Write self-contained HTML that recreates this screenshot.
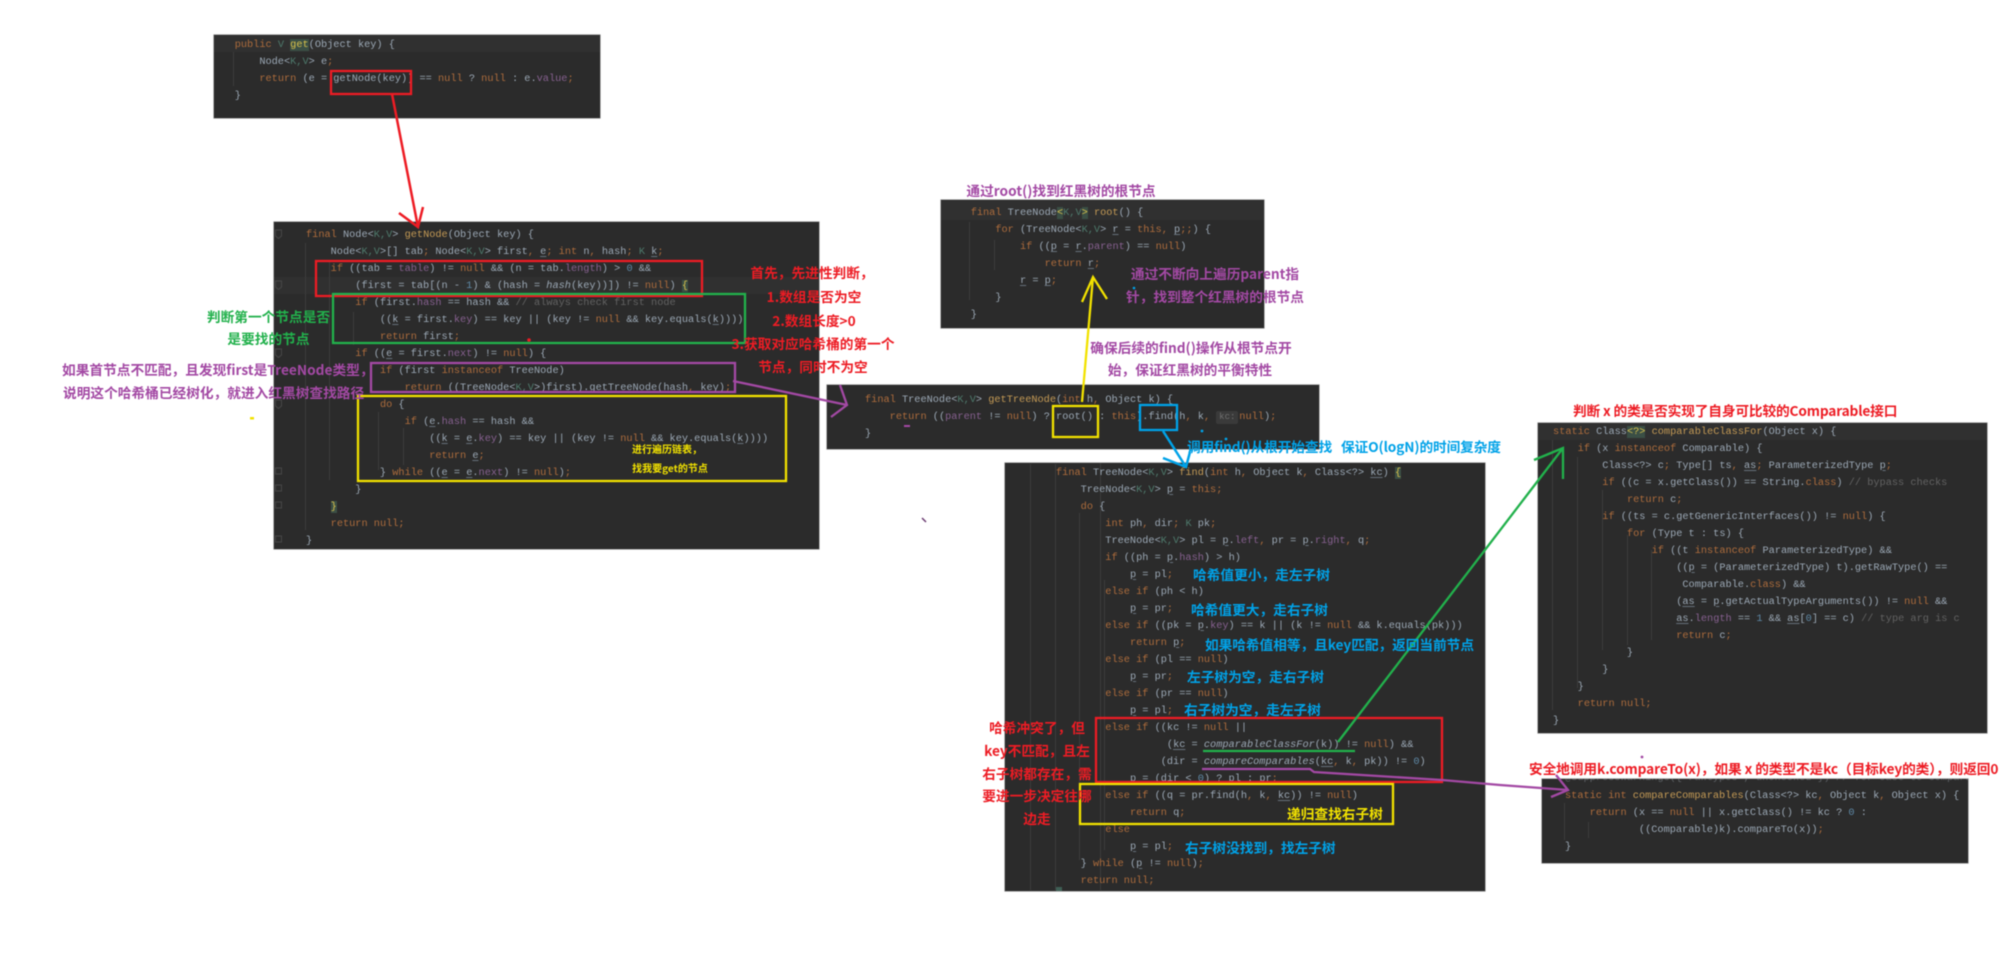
<!DOCTYPE html>
<html><head><meta charset="utf-8"><style>
html,body{margin:0;padding:0;background:#fff}
#r{position:relative;width:2011px;height:975px;overflow:hidden;background:#fff;filter:blur(.6px)}
.p{position:absolute;background:#2b2b2b;box-shadow:0 0 0 .6px #8a8a8a}
.b{position:absolute;background:#303030}
pre{position:absolute;margin:0;font:10.28px/17px "Liberation Mono",monospace;color:#9ba8b5;white-space:pre}
pre i{font-style:normal}
.k{color:#ad6c3c}.t{color:#4e7a6c}.m{color:#c49a55}.f{color:#86608f}.n{color:#5f8aa8}.c{color:#626262}
.h{background:#3b4f45;color:#d8c04a}
.it{font-style:italic!important}
.chip{display:inline-block;width:22px;height:13px;line-height:13px;margin-right:1px;background:#3a3a3a;color:#707070;font-size:9px;text-align:center;border-radius:2px}
.l{position:absolute;font-family:"Noto Sans CJK SC","Liberation Sans",sans-serif;font-weight:700;font-size:13.7px;line-height:20px;white-space:nowrap;transform:translateY(-50%)}
.c2{transform:translate(-50%,-50%)}
.g{color:#22b14c}.pu{color:#a349a4}.r{color:#ed1c24}.y{color:#f2e200}.bl{color:#00a2e8}
svg{position:absolute;left:0;top:0}
u{text-decoration-color:#66707a;text-decoration-thickness:.5px;text-underline-offset:1.5px}
</style></head><body><div id="r">

<div class="p" style="left:214px;top:35px;width:386px;height:83px"></div>
<div class="b" style="left:214px;top:35px;width:386px;height:17px"></div>
<div class="p" style="left:274px;top:222px;width:545px;height:327px"></div>
<div class="b" style="left:274px;top:277px;width:545px;height:17px"></div>
<div class="p" style="left:941px;top:200px;width:323px;height:128px"></div>
<div class="b" style="left:941px;top:201px;width:323px;height:19px"></div>
<div class="p" style="left:827px;top:385px;width:492px;height:64px"></div>
<div class="p" style="left:1005px;top:463px;width:480px;height:428px"></div>
<div class="p" style="left:1538px;top:423px;width:449px;height:310px"></div>
<div class="b" style="left:1538px;top:423px;width:449px;height:17px"></div>
<div class="p" style="left:1542px;top:779px;width:426px;height:84px"></div>

<svg width="2011" height="975" fill="none" stroke="#3c3c3c" stroke-width="1">
<path d="M233.5 52V86M305.5 243V530M329.5 260V480M353.5 312V345M378.5 412V470M403.5 428V465M969.5 222V300M994.5 240V270M1030.5 464V890M1055.5 464V890M1079.5 513V860M1104.5 580V850M1552.5 440V710M1577.5 457V688M1602.5 490V650M1627.5 535V645M1651.5 550V640M1564.5 803V840M1588.5 822V838M1100.5 463V890"/>
<g stroke="#474747"><path d="M275.5 230h6v6l-3 2.5l-3-2.5zM275.5 281h6v6l-3 2.5l-3-2.5zM275.5 349h6v6l-3 2.5l-3-2.5zM275.5 400h6v6l-3 2.5l-3-2.5zM275.5 468h6v6l-3 0-3-0zM275.5 485h6v6l-3 0-3-0zM275.5 502h6v6l-3 0-3-0zM275.5 536h6v6l-3 0-3-0z"/></g>
<rect x="1056" y="887" width="6" height="4" fill="#3f5f55" stroke="none"/>
</svg>

<pre style="left:234.7px;top:36.5px"><i class="k">public</i> <i class="t">V</i> <i class="h">get</i>(Object key) {
    Node&lt;<i class="t">K,V</i>&gt; e<i class="k">;</i>
    <i class="k">return</i> (e = getNode(key)) == <i class="k">null</i> ? <i class="k">null</i> : e.<i class="f">value</i><i class="k">;</i>
}</pre>

<pre style="left:306px;top:226.5px"><i class="k">final</i> Node&lt;<i class="t">K,V</i>&gt; <i class="m">getNode</i>(Object key) {
    Node&lt;<i class="t">K,V</i>&gt;[] tab<i class="k">;</i> Node&lt;<i class="t">K,V</i>&gt; first<i class="k">,</i> <u>e</u><i class="k">;</i> <i class="k">int</i> n<i class="k">,</i> hash<i class="k">;</i> <i class="t">K</i> <u>k</u><i class="k">;</i>
    <i class="k">if</i> ((tab = <i class="f">table</i>) != <i class="k">null</i> &amp;&amp; (n = tab.<i class="f">length</i>) &gt; <i class="n">0</i> &amp;&amp;
        (first = tab[(n - <i class="n">1</i>) &amp; (hash = <i class="it">hash</i>(key))]) != <i class="k">null</i>) <i class="h">{</i>
        <i class="k">if</i> (first.<i class="f">hash</i> == hash &amp;&amp; <i class="c">// always check first node</i>
            ((<u>k</u> = first.<i class="f">key</i>) == key || (key != <i class="k">null</i> &amp;&amp; key.equals(<u>k</u>))))
            <i class="k">return</i> first<i class="k">;</i>
        <i class="k">if</i> ((<u>e</u> = first.<i class="f">next</i>) != <i class="k">null</i>) {
            <i class="k">if</i> (first <i class="k">instanceof</i> TreeNode)
                <i class="k">return</i> ((TreeNode&lt;<i class="t">K,V</i>&gt;)first).getTreeNode(hash<i class="k">,</i> key)<i class="k">;</i>
            <i class="k">do</i> {
                <i class="k">if</i> (<u>e</u>.<i class="f">hash</i> == hash &amp;&amp;
                    ((<u>k</u> = <u>e</u>.<i class="f">key</i>) == key || (key != <i class="k">null</i> &amp;&amp; key.equals(<u>k</u>))))
                    <i class="k">return</i> <u>e</u><i class="k">;</i>
            } <i class="k">while</i> ((<u>e</u> = <u>e</u>.<i class="f">next</i>) != <i class="k">null</i>)<i class="k">;</i>
        }
    <i class="h">}</i>
    <i class="k">return null;</i>
}</pre>

<pre style="left:970.7px;top:205px"><i class="k">final</i> TreeNode<i class="h">&lt;</i><i class="t">K,V</i><i class="h">&gt;</i> <i class="m">root</i>() {
    <i class="k">for</i> (TreeNode&lt;<i class="t">K,V</i>&gt; <u>r</u> = <i class="k">this,</i> <u>p</u><i class="k">;;</i>) {
        <i class="k">if</i> ((<u>p</u> = <u>r</u>.<i class="f">parent</i>) == <i class="k">null</i>)
            <i class="k">return</i> <u>r</u><i class="k">;</i>
        <u>r</u> = <u>p</u><i class="k">;</i>
    }
}</pre>

<pre style="left:865px;top:391.5px"><i class="k">final</i> TreeNode&lt;<i class="t">K,V</i>&gt; <i class="m">getTreeNode</i>(<i class="k">int</i> h<i class="k">,</i> Object k) {
    <i class="k">return</i> ((<i class="f">parent</i> != <i class="k">null</i>) ? root() : <i class="k">this</i>).find(h<i class="k">,</i> k<i class="k">,</i> <i class="chip">kc:</i><i class="k">null</i>)<i class="k">;</i>
}</pre>

<pre style="left:1056px;top:464.5px"><i class="k">final</i> TreeNode&lt;<i class="t">K,V</i>&gt; <i class="m">find</i>(<i class="k">int</i> h<i class="k">,</i> Object k<i class="k">,</i> Class&lt;?&gt; <u>kc</u>) <i class="h">{</i>
    TreeNode&lt;<i class="t">K,V</i>&gt; <u>p</u> = <i class="k">this;</i>
    <i class="k">do</i> {
        <i class="k">int</i> ph<i class="k">,</i> dir<i class="k">;</i> <i class="t">K</i> pk<i class="k">;</i>
        TreeNode&lt;<i class="t">K,V</i>&gt; pl = <u>p</u>.<i class="f">left</i><i class="k">,</i> pr = <u>p</u>.<i class="f">right</i><i class="k">,</i> q<i class="k">;</i>
        <i class="k">if</i> ((ph = <u>p</u>.<i class="f">hash</i>) &gt; h)
            <u>p</u> = pl<i class="k">;</i>
        <i class="k">else if</i> (ph &lt; h)
            <u>p</u> = pr<i class="k">;</i>
        <i class="k">else if</i> ((pk = <u>p</u>.<i class="f">key</i>) == k || (k != <i class="k">null</i> &amp;&amp; k.equals(pk)))
            <i class="k">return</i> <u>p</u><i class="k">;</i>
        <i class="k">else if</i> (pl == <i class="k">null</i>)
            <u>p</u> = pr<i class="k">;</i>
        <i class="k">else if</i> (pr == <i class="k">null</i>)
            <u>p</u> = pl<i class="k">;</i>
        <i class="k">else if</i> ((kc != <i class="k">null</i> ||
                  (<u>kc</u> = <i class="it">comparableClassFor</i>(k)) != <i class="k">null</i>) &amp;&amp;
                 (dir = <i class="it">compareComparables</i>(<u>kc</u><i class="k">,</i> k<i class="k">,</i> pk)) != <i class="n">0</i>)
            <u>p</u> = (dir &lt; <i class="n">0</i>) ? pl : pr<i class="k">;</i>
        <i class="k">else if</i> ((q = pr.find(h<i class="k">,</i> k<i class="k">,</i> <u>kc</u>)) != <i class="k">null</i>)
            <i class="k">return</i> q<i class="k">;</i>
        <i class="k">else</i>
            <u>p</u> = pl<i class="k">;</i>
    } <i class="k">while</i> (<u>p</u> != <i class="k">null</i>)<i class="k">;</i>
    <i class="k">return null;</i></pre>

<pre style="left:1553px;top:423.5px"><i class="k">static</i> Class<i class="h">&lt;?&gt;</i> <i class="m">comparableClassFor</i>(Object x) {
    <i class="k">if</i> (x <i class="k">instanceof</i> Comparable) {
        Class&lt;?&gt; c<i class="k">;</i> Type[] ts<i class="k">,</i> <u>as</u><i class="k">;</i> ParameterizedType <u>p</u><i class="k">;</i>
        <i class="k">if</i> ((c = x.getClass()) == String.<i class="k">class</i>) <i class="c">// bypass checks</i>
            <i class="k">return</i> c<i class="k">;</i>
        <i class="k">if</i> ((ts = c.getGenericInterfaces()) != <i class="k">null</i>) {
            <i class="k">for</i> (Type t : ts) {
                <i class="k">if</i> ((t <i class="k">instanceof</i> ParameterizedType) &amp;&amp;
                    ((<u>p</u> = (ParameterizedType) t).getRawType() ==
                     Comparable.<i class="k">class</i>) &amp;&amp;
                    (<u>as</u> = <u>p</u>.getActualTypeArguments()) != <i class="k">null</i> &amp;&amp;
                    <u>as</u>.<i class="f">length</i> == <i class="n">1</i> &amp;&amp; <u>as</u>[<i class="n">0</i>] == c) <i class="c">// type arg is c</i>
                    <i class="k">return</i> c<i class="k">;</i>
            }
        }
    }
    <i class="k">return null;</i>
}</pre>

<div style="position:absolute;left:1542px;top:779px;width:426px;height:84px;overflow:hidden"><pre style="left:23px;top:-9px;color:#5e6266">@SuppressWarnings({"rawtypes","unchecked"}) // for cast to Comparable</pre></div>
<pre style="left:1565px;top:787.5px"><i class="k">static int</i> <i class="m">compareComparables</i>(Class&lt;?&gt; kc<i class="k">,</i> Object k<i class="k">,</i> Object x) {
    <i class="k">return</i> (x == <i class="k">null</i> || x.getClass() != kc ? <i class="n">0</i> :
            ((Comparable)k).compareTo(x))<i class="k">;</i>
}</pre>

<svg width="2011" height="975" fill="none" stroke-width="2.3">
<g stroke="#ed1c24">
<rect x="331" y="71" width="80" height="23"/>
<path d="M392 94L418 227M399 213L418 227L423 207" stroke-width="2.5"/>
<rect x="316" y="261" width="386" height="35"/>
<rect x="1096" y="718" width="346" height="64"/>
</g>
<g stroke="#22b14c">
<rect x="333" y="294" width="412" height="49"/>
<path d="M1203 751H1355" />
<path d="M1338 742L1563 448M1534 460L1563 448L1563 479"/>
</g>
<g stroke="#a349a4">
<rect x="371" y="363" width="364" height="29"/>
<path d="M733 381L847 405M840 385L847 405L831 417"/>
<path d="M1202 769H1310L1314 772L1442 780L1500 785L1568 790M1556 775L1568 790L1551 797"/>
</g>
<g stroke="#f2e200">
<rect x="358" y="396" width="428" height="85"/>
<rect x="1053" y="406" width="45" height="31"/>
<path d="M1082 402L1093 277M1082 302L1093 277L1107 299"/>
<rect x="1080" y="784" width="313" height="40"/>
</g>
<g stroke="#00a2e8">
<rect x="1140" y="405" width="37" height="25"/>
<path d="M1163 431L1186 467M1163 458L1186 467L1190 452" stroke-width="2.5"/>
</g>
<g stroke="none">
<circle cx="529" cy="340" r="1.8" fill="#ed1c24"/>
<rect x="250" y="417" width="4" height="2.5" fill="#f2e200"/>
<circle cx="1134" cy="288" r="1.3" fill="#00a2e8"/>
<circle cx="1202" cy="431" r="1.4" fill="#00a2e8"/>
<circle cx="1226" cy="439" r="1.4" fill="#00a2e8"/>
<rect x="904" y="425" width="6" height="2" fill="#a349a4"/>
<circle cx="1642" cy="757" r="1.4" fill="#a349a4"/>
</g>
<path d="M922 518L926 522" stroke="#6a3a70" stroke-width="1.5"/>
</svg>

<div class="l g c2" style="left:268.5px;top:316px">判断第一个节点是否</div>
<div class="l g c2" style="left:268.5px;top:338px">是要找的节点</div>
<div class="l pu" style="left:62px;top:369px">如果首节点不匹配，且发现first是TreeNode类型，</div>
<div class="l pu" style="left:63px;top:392px">说明这个哈希桶已经树化，就进入红黑树查找路径</div>

<div class="l r c2" style="left:812px;top:272px">首先，先进性判断，</div>
<div class="l r c2" style="left:814px;top:296px">1.数组是否为空</div>
<div class="l r c2" style="left:814px;top:320px">2.数组长度&gt;0</div>
<div class="l r c2" style="left:813px;top:343px">3.获取对应哈希桶的第一个</div>
<div class="l r c2" style="left:813px;top:366px">节点，同时不为空</div>

<div class="l y c2" style="left:667px;top:449px;font-size:10px">进行遍历链表，</div>
<div class="l y c2" style="left:670px;top:468px;font-size:10px">找我要get的节点</div>

<div class="l pu c2" style="left:1061px;top:190px">通过root()找到红黑树的根节点</div>
<div class="l pu c2" style="left:1215px;top:273px">通过不断向上遍历parent指</div>
<div class="l pu c2" style="left:1215px;top:296px">针，找到整个红黑树的根节点</div>
<div class="l pu c2" style="left:1191px;top:347px">确保后续的find()操作从根节点开</div>
<div class="l pu c2" style="left:1190px;top:369px">始，保证红黑树的平衡特性</div>

<div class="l bl" style="left:1187px;top:446px;letter-spacing:-.12px">调用find()从根开始查找&nbsp;&nbsp;&nbsp;保证O(logN)的时间复杂度</div>

<div class="l bl" style="left:1193px;top:574px">哈希值更小，走左子树</div>
<div class="l bl" style="left:1191px;top:609px">哈希值更大，走右子树</div>
<div class="l bl" style="left:1205px;top:644px;letter-spacing:-.05px">如果哈希值相等，且key匹配，返回当前节点</div>
<div class="l bl" style="left:1187px;top:676px">左子树为空，走右子树</div>
<div class="l bl" style="left:1184px;top:709px">右子树为空，走左子树</div>
<div class="l bl" style="left:1185px;top:847px">右子树没找到，找左子树</div>
<div class="l y" style="left:1287px;top:813px">递归查找右子树</div>

<div class="l r c2" style="left:1037px;top:727px">哈希冲突了，但</div>
<div class="l r c2" style="left:1037px;top:750px">key不匹配，且左</div>
<div class="l r c2" style="left:1037px;top:773px">右子树都存在，需</div>
<div class="l r c2" style="left:1037px;top:795px">要进一步决定往哪</div>
<div class="l r c2" style="left:1037px;top:818px">边走</div>

<div class="l r" style="left:1573px;top:410px;letter-spacing:-.15px">判断 x 的类是否实现了自身可比较的Comparable接口</div>
<div class="l r" style="left:1529px;top:768px;letter-spacing:-.1px">安全地调用k.compareTo(x)，如果 x 的类型不是kc（目标key的类），则返回0</div>

</div></body></html>
